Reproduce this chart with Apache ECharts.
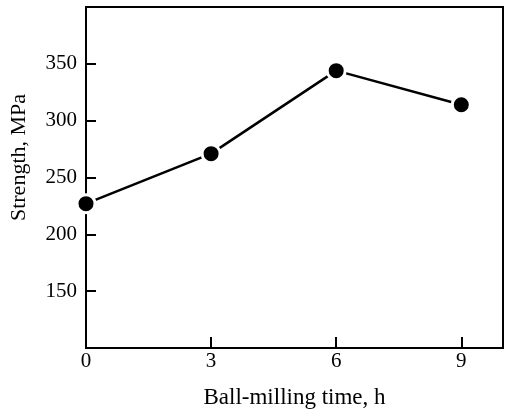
<!DOCTYPE html>
<html>
<head>
<meta charset="utf-8">
<script src="https://cdn.jsdelivr.net/npm/echarts@6/dist/echarts.min.js"></script>
<style>html,body{margin:0;padding:0;background:#fff;}#c{width:505px;height:411px;}</style>
</head>
<body>
<div id="c"></div>
<script>
const times = [0, 3, 6, 9];
const strength = [227, 271, 344, 314];
const xTicks = [0, 3, 6, 9];
const yTicks = [150, 200, 250, 300, 350];

const font = '"Liberation Serif", "DejaVu Serif", serif';
const chart = echarts.init(document.getElementById('c'));
chart.setOption({
  backgroundColor: '#fff',
  animation: false,
  grid: { left: 86, top: 7, right: 2, bottom: 63, outerBoundsMode: 'none', containLabel: false,
    show: true, borderColor: '#000', borderWidth: 2, backgroundColor: 'transparent' },
  xAxis: {
    type: 'value', min: 0, max: 10, interval: 3,
    name: 'Ball-milling time, h', nameLocation: 'middle', nameGap: 38,
    nameTextStyle: { fontFamily: font, fontSize: 23, color: '#000' },
    axisLine: { lineStyle: { color: '#000', width: 2 } },
    axisTick: { inside: true, length: 11, lineStyle: { color: '#000', width: 2 } },
    axisLabel: { fontFamily: font, fontSize: 21, color: '#000', margin: 3, showMaxLabel: false,
      formatter: v => xTicks.includes(v) ? String(v) : '' },
    splitLine: { show: false }
  },
  yAxis: {
    type: 'value', min: 100, max: 400, interval: 50,
    name: 'Strength, MPa', nameLocation: 'middle', nameGap: 56,
    nameTextStyle: { fontFamily: font, fontSize: 22, color: '#000', padding: [0, 0, 0, 40] },
    axisLine: { lineStyle: { color: '#000', width: 2 } },
    axisTick: { inside: true, length: 10, lineStyle: { color: '#000', width: 2 } },
    axisLabel: { fontFamily: font, fontSize: 21, color: '#000', margin: 9,
      formatter: v => yTicks.includes(v) ? String(v) : '' },
    splitLine: { show: false }
  },
  series: [{
    type: 'line',
    data: times.map((t, i) => [t, strength[i]]),
    symbol: 'circle', symbolSize: 18,
    itemStyle: { color: '#000', borderColor: '#fff', borderWidth: 3 },
    lineStyle: { color: '#000', width: 2.5 },
    clip: false
  }]
});
</script>
</body>
</html>
